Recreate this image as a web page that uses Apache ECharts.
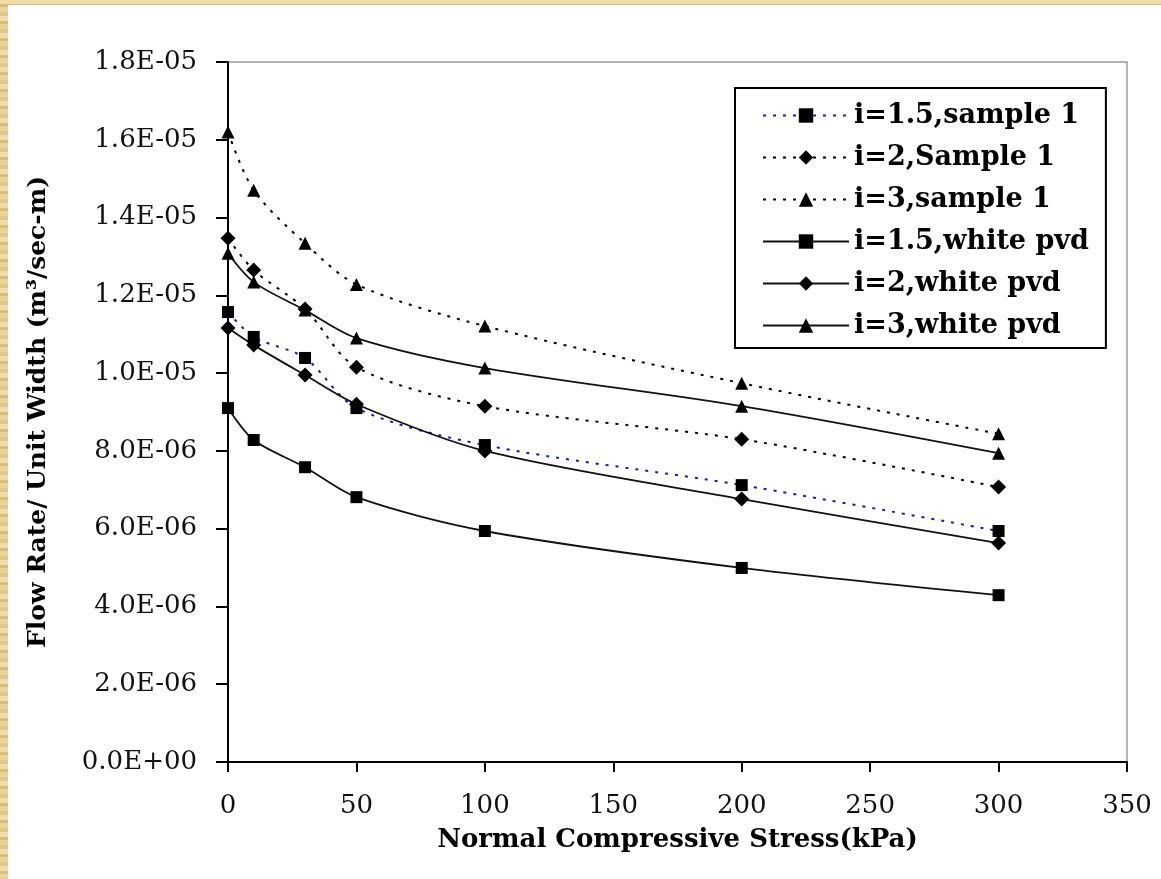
<!DOCTYPE html>
<html><head><meta charset="utf-8">
<script src="https://cdn.jsdelivr.net/npm/echarts@6/dist/echarts.min.js"></script>
<style>
html,body{margin:0;padding:0;width:1161px;height:879px;overflow:hidden;
background:repeating-linear-gradient(0deg,#ead39a 0 5px,#dcbd78 5px 8px,#f0dca8 8px 13px,#e2c789 13px 17px);}
#chart{position:absolute;left:8px;top:5px;width:1153px;height:874px;background:#fff;}
</style></head><body><div id="chart"></div>
<script>
// Normal compressive stress (kPa)
const stress = [0, 10, 30, 50, 100, 200, 300];
// Flow rate / unit width (m^3/sec-m)
const i15Sample1 = [1.157e-5, 1.093e-5, 1.039e-5, 9.10e-6, 8.15e-6, 7.12e-6, 5.94e-6];
const i2Sample1  = [1.347e-5, 1.265e-5, 1.165e-5, 1.015e-5, 9.15e-6, 8.30e-6, 7.07e-6];
const i3Sample1  = [1.620e-5, 1.470e-5, 1.334e-5, 1.228e-5, 1.121e-5, 9.74e-6, 8.44e-6];
const i15White   = [9.10e-6, 8.28e-6, 7.58e-6, 6.81e-6, 5.94e-6, 4.99e-6, 4.29e-6];
const i2White    = [1.116e-5, 1.072e-5, 9.95e-6, 9.20e-6, 8.00e-6, 6.76e-6, 5.63e-6];
const i3White    = [1.308e-5, 1.234e-5, 1.162e-5, 1.090e-5, 1.013e-5, 9.15e-6, 7.94e-6];
const seriesNames = ['i=1.5,sample 1','i=2,Sample 1','i=3,sample 1','i=1.5,white pvd','i=2,white pvd','i=3,white pvd'];
const xTitle = 'Normal Compressive Stress(kPa)';
const yTitle = 'Flow Rate/ Unit Width (m³/sec-m)';

function sci(v){
  if (Math.abs(v) < 1e-12) return '0.0E+00';
  let e = Math.floor(Math.log10(Math.abs(v)));
  let m = Math.round(v / Math.pow(10, e) * 10) / 10;
  if (m >= 10) { m = m / 10; e += 1; }
  const ae = Math.abs(e);
  return m.toFixed(1) + 'E' + (e < 0 ? '-' : '+') + (ae < 10 ? '0' : '') + ae;
}
const pairs = arr => stress.map((x, k) => [x, arr[k]]);
const dotted = [3, 7];
function mk(name, data, symbol, dash, lineColor, size){
  return {
    name, type: 'line', data: pairs(data), smooth: 0.3,
    symbol, symbolSize: size, showSymbol: true,
    itemStyle: {color: '#000'},
    lineStyle: {color: lineColor, width: dash ? 2 : 1.8, type: dash ? dotted : 'solid'},
    emphasis: {disabled: true}, animation: false
  };
}
const chart = echarts.init(document.getElementById('chart'));
chart.setOption({
  animation: false,
  backgroundColor: '#fff',
  grid: {left: 220, right: 34, top: 57, bottom: 117, show: true, borderColor: '#999', borderWidth: 1.5},
  legend: {
    orient: 'vertical', left: 727, top: 83,
    padding: [14, 17, 9, 27], itemGap: 15, itemWidth: 86, itemHeight: 18,
    borderColor: '#000', borderWidth: 2, backgroundColor: '#fff',
    textStyle: {fontFamily: 'DejaVu Serif', fontWeight: 'bold', fontSize: 27, color: '#000'},
    data: seriesNames
  },
  xAxis: {
    type: 'value', min: 0, max: 350, interval: 50,
    axisLine: {lineStyle: {color: '#000', width: 2}},
    axisTick: {length: 10, lineStyle: {color: '#000', width: 2}},
    splitLine: {show: false},
    axisLabel: {margin: 31, fontFamily: 'DejaVu Serif', fontSize: 26, color: '#111'},
    name: xTitle, nameLocation: 'middle', nameGap: 65,
    nameTextStyle: {fontFamily: 'DejaVu Serif', fontWeight: 'bold', fontSize: 26, color: '#000'}
  },
  yAxis: {
    type: 'value', min: 0, max: 1.8e-5, interval: 2e-6,
    axisLine: {show: true, lineStyle: {color: '#000', width: 2}},
    axisTick: {show: true, length: 12, lineStyle: {color: '#000', width: 2}},
    splitLine: {show: false},
    axisLabel: {margin: 31, fontFamily: 'DejaVu Serif', fontSize: 26, color: '#111', formatter: sci},
    name: yTitle, nameLocation: 'middle', nameGap: 177,
    nameTextStyle: {fontFamily: 'DejaVu Serif', fontWeight: 'bold', fontSize: 25, color: '#000'}
  },
  series: [
    mk(seriesNames[0], i15Sample1, 'rect', true, '#1a1aa0', 12),
    mk(seriesNames[1], i2Sample1, 'diamond', true, '#000', 15),
    mk(seriesNames[2], i3Sample1, 'triangle', true, '#000', 13),
    mk(seriesNames[3], i15White, 'rect', false, '#111', 12),
    mk(seriesNames[4], i2White, 'diamond', false, '#111', 15),
    mk(seriesNames[5], i3White, 'triangle', false, '#111', 13)
  ]
});
</script></body></html>
